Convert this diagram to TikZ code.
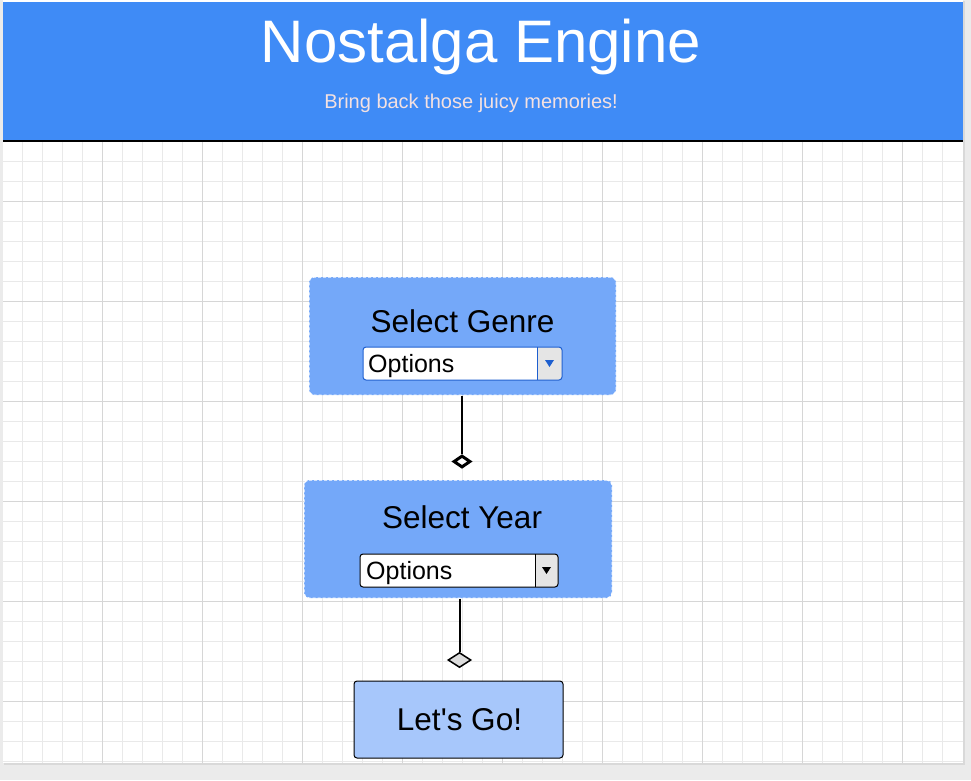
\documentclass[tikz,border=0pt]{standalone}
\usepackage{fontspec}
\setmainfont{Liberation Sans}[Ligatures=TeXOff]
\usetikzlibrary{shapes.geometric}
\definecolor{pagebg}{HTML}{EBEBEB}
\definecolor{shadowc}{HTML}{D9D9D9}
\definecolor{headblue}{HTML}{3F8BF6}
\definecolor{subpink}{HTML}{F4E1E1}
\definecolor{gridminor}{HTML}{E9E9E9}
\definecolor{gridmajor}{HTML}{D6D6D6}
\definecolor{cardblue}{HTML}{74A8F9}
\definecolor{gofill}{HTML}{A7C7FB}
\definecolor{ddblue}{HTML}{1E5FCF}
\definecolor{btngray}{HTML}{E5E5E5}
\definecolor{diamgray}{HTML}{DCDCDC}
\begin{document}
\begin{tikzpicture}[x=1pt,y=-1pt,
  minorline/.style={draw=gridminor,line width=1pt},
  majorline/.style={draw=gridmajor,line width=1pt},
  stepcard/.style={draw=white,line width=1pt,dash pattern=on 3pt off 2pt,fill=cardblue,
    rounded corners=5pt,minimum width=307pt,minimum height=118pt,inner sep=0pt},
  gobox/.style={draw=black,line width=1pt,fill=gofill,rounded corners=3pt,
    minimum width=209pt,minimum height=77pt,inner sep=0pt},
  cardtext/.style={font=\fontsize{31.5}{36}\selectfont,text=black,inner sep=0pt,anchor=base},
  opttext/.style={font=\fontsize{25}{30}\selectfont,text=black,inner sep=0pt,anchor=base west},
  dropdown/.style n args={3}{rounded corners=3pt,fill=white,draw=#3,line width=1pt,
    minimum width=#1,minimum height=33pt,inner sep=0pt,
    path picture={
      \fill[btngray,sharp corners] ([xshift=-#2]path picture bounding box.north east)
        rectangle (path picture bounding box.south east);
      \draw[#3,line width=1pt,sharp corners] ([xshift=-#2]path picture bounding box.north east)
        -- ([xshift=-#2]path picture bounding box.south east);
      \fill[#3,sharp corners] ([xshift=-#2/2]path picture bounding box.east) ++(-4.5pt,3.5pt)
        -- ++(9pt,0pt) -- ++(-4.5pt,-7pt) -- cycle;
    }},
  conn/.style={draw=black,line width=2.5pt},
]
\useasboundingbox (0,0) rectangle (971,780);
% page and canvas
\fill[pagebg] (0,0) rectangle (971,780);
\fill[shadowc] (4,1) rectangle (965,765);
\fill[white] (3,0) rectangle (963,763);
% grid
\foreach \x in {22.5,42.5,...,942.5} \draw[minorline] (\x,142) -- (\x,763);
\foreach \y in {161.5,181.5,...,761.5} \draw[minorline] (3,\y) -- (963,\y);
\foreach \x in {102.5,202.5,...,902.5} \draw[majorline] (\x,142) -- (\x,763);
\foreach \y in {201.5,301.5,...,701.5} \draw[majorline] (3,\y) -- (963,\y);
% header
\fill[headblue] (3,2) rectangle (963,140);
\draw[black,line width=2pt] (3,141) -- (963,141);
\node[font=\fontsize{60}{70}\selectfont,text=white,inner sep=0pt,anchor=base] (title) at (481,62) {Nostalga Engine};
\node[font=\fontsize{20}{24}\selectfont,text=subpink,inner sep=0pt,anchor=base] (subtitle) at (471,108) {Bring back those juicy memories!};
% card 1
\node[stepcard] (genre) at (462.5,336) {};
\node[cardtext] (genretext) at (462.5,332) {Select Genre};
\node[dropdown={199pt}{25pt}{ddblue}] (dd1) at (462.5,363.5) {};
\node[opttext] (opt1) at (368,372) {Options};
% card 2
\node[stepcard,minimum width=308pt] (year) at (458,539) {};
\node[cardtext] (yeartext) at (462,528) {Select Year};
\node[dropdown={198pt}{23pt}{black}] (dd2) at (459,570.5) {};
\node[opttext] (opt2) at (366,579) {Options};
% go box
\node[gobox] (go) at (458.5,719.5) {};
\node[cardtext] (gotext) at (459.5,730) {Let's Go!};
% diamonds
\node[diamond,draw=black,line width=3pt,fill=white,minimum width=17pt,minimum height=12pt,inner sep=0pt] (d1) at (462,461.5) {};
\node[diamond,draw=black,line width=1.5pt,fill=diamgray,minimum width=23pt,minimum height=15pt,inner sep=0pt] (d2) at (459.5,660) {};
% connectors
\draw[conn] (d1.north |- genre.south) -- (d1.north);
\draw[conn,line width=2pt] (d2.north |- year.south) -- (d2.north);
\end{tikzpicture}
\end{document}
